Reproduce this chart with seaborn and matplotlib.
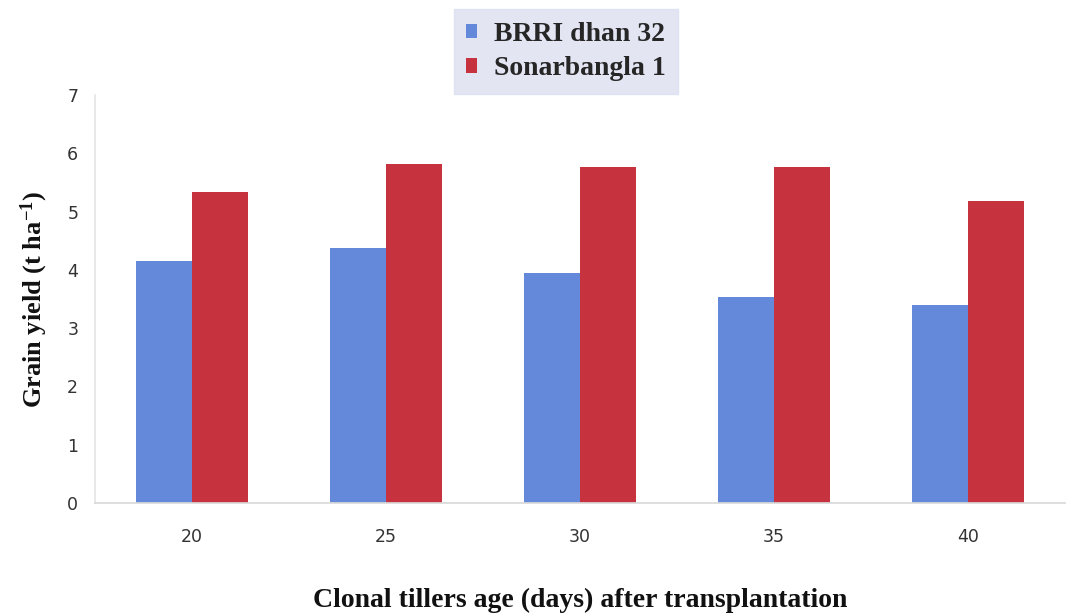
import matplotlib
matplotlib.use("Agg")
import matplotlib.pyplot as plt
import seaborn as sns
import pandas as pd

ages = ["20", "25", "30", "35", "40"]
brri = [4.15, 4.37, 3.94, 3.53, 3.40]
sonar = [5.33, 5.81, 5.76, 5.76, 5.18]
series_names = ["BRRI dhan 32", "Sonarbangla 1"]
yticks = [0, 1, 2, 3, 4, 5, 6, 7]

df = pd.DataFrame({
    "age": ages * 2,
    "yield": brri + sonar,
    "variety": [series_names[0]] * len(ages) + [series_names[1]] * len(ages),
})

sns.set_theme(style="white")
plt.rcParams['font.family'] = ['DejaVu Sans']
plt.rcParams['mathtext.fontset'] = 'custom'
plt.rcParams['mathtext.rm'] = 'Liberation Serif:bold'
plt.rcParams['mathtext.bf'] = 'Liberation Serif:bold'
plt.rcParams['mathtext.it'] = 'Liberation Serif:bold'

fig = plt.figure(figsize=(10.66, 6.14), dpi=100)
ax = fig.add_axes([0.089, 0.181, 0.91, 0.664])

palette = {series_names[0]: "#6489db", series_names[1]: "#c7323f"}
sns.barplot(data=df, x="age", y="yield", hue="variety", order=ages,
            hue_order=series_names, palette=palette, width=0.58,
            saturation=1, ax=ax, legend=True, linewidth=0)

ax.set_ylim(0, 7)
ax.set_yticks(yticks)
ax.tick_params(axis="both", length=0, labelsize=12.5, colors="#333333")
ax.tick_params(axis="x", pad=18)
ax.tick_params(axis="y", pad=12)
for s in ["top", "right"]:
    ax.spines[s].set_visible(False)
ax.spines["left"].set_color("#e6e6e6")
ax.spines["bottom"].set_color("#d9d9d9")

serif = ["Liberation Serif", "DejaVu Serif"]
ax.set_xlabel("Clonal tillers age (days) after transplantation",
              fontsize=20, fontweight="bold", family=serif, labelpad=30, color="#111111")
ax.set_ylabel(r"Grain yield (t ha$^{\mathrm{-1}}$)", fontsize=19,
              fontweight="bold", family=serif, labelpad=12, color="#111111")

handles, labels = ax.get_legend_handles_labels()
ax.legend_.remove()
leg = fig.legend(handles, labels, loc="center", bbox_to_anchor=(0.531, 0.916),
                 prop={"family": serif, "weight": "bold", "size": 20},
                 frameon=True, fancybox=False, handlelength=0.4, handleheight=0.4,
                 handletextpad=0.6, labelspacing=0.35, borderpad=0.45)
leg.get_frame().set_facecolor("#dcdff0")
leg.get_frame().set_edgecolor("#dcdff0")

fig.savefig("out.png", dpi=100)
